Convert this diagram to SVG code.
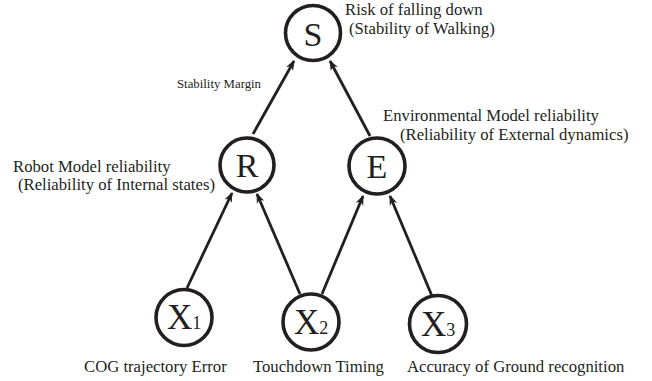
<svg xmlns="http://www.w3.org/2000/svg" width="652" height="381" viewBox="0 0 652 381">
<defs>
<marker id="ah" viewBox="0 0 10 10" refX="9" refY="5" markerWidth="3.6" markerHeight="3.6" orient="auto" markerUnits="strokeWidth">
<path d="M0,1 L10,5 L0,9 L3,5 z" fill="#231f20"/>
</marker>
<style>
.node{fill:#fff;stroke:#231f20;stroke-width:3.6}
.nl{font-family:"Liberation Serif",serif;font-size:34px;text-anchor:middle;fill:#231f20}
.xl{font-family:"Liberation Serif",serif;font-size:35px;fill:#231f20}
.sub{font-size:18px}
.lab{font-family:"Liberation Serif",serif;font-size:16.7px;fill:#231f20}
.small{font-family:"Liberation Serif",serif;font-size:12.8px;fill:#231f20}
.edge{stroke:#231f20;stroke-width:2.8;fill:none;marker-end:url(#ah)}
</style>
</defs>
<rect width="652" height="381" fill="#fff"/>
<g id="connectors">
<line class="edge" x1="253" y1="134" x2="294" y2="61"/>
<line class="edge" x1="370" y1="136" x2="330" y2="61"/>
<line class="edge" x1="187" y1="288" x2="232" y2="193"/>
<line class="edge" x1="300" y1="294" x2="257" y2="194"/>
<line class="edge" x1="322" y1="294" x2="363" y2="196"/>
<line class="edge" x1="432" y1="296" x2="390" y2="196"/>
</g>
<g id="S">
<circle class="node" cx="313" cy="33" r="27.5"/>
<text class="nl" x="313" y="46">S</text>
<text class="lab" x="345" y="15">Risk of falling down</text>
<text class="lab" x="349" y="34">(Stability of Walking)</text>
</g>
<text class="small" x="177" y="88">Stability Margin</text>
<g id="R">
<circle class="node" cx="247" cy="165" r="27"/>
<text class="nl" x="247" y="176.5">R</text>
<text class="lab" x="13" y="172">Robot Model reliability</text>
<text class="lab" x="18" y="190">(Reliability of Internal states)</text>
</g>
<g id="E">
<circle class="node" cx="377" cy="166" r="28"/>
<text class="nl" x="377" y="177.5">E</text>
<text class="lab" x="383" y="121">Environmental Model reliability</text>
<text class="lab" x="400" y="140">(Reliability of External dynamics)</text>
</g>
<g id="X1">
<circle class="node" cx="184" cy="317.5" r="28"/>
<text class="xl" x="167" y="329">X<tspan class="sub">1</tspan></text>
<text class="lab" x="84" y="372">COG trajectory Error</text>
</g>
<g id="X2">
<circle class="node" cx="311" cy="322" r="28"/>
<text class="xl" x="294" y="333.5">X<tspan class="sub">2</tspan></text>
<text class="lab" x="253" y="372">Touchdown Timing</text>
</g>
<g id="X3">
<circle class="node" cx="438" cy="324" r="28.5"/>
<text class="xl" x="421" y="335.5">X<tspan class="sub">3</tspan></text>
<text class="lab" x="407" y="372">Accuracy of Ground recognition</text>
</g>
</svg>
